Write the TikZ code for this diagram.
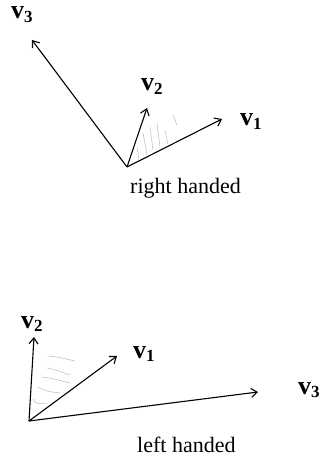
\documentclass[tikz,border=0pt]{standalone}
\usepackage{fontspec}
\setmainfont{Liberation Serif}
\usepackage{tikz}
\usetikzlibrary{arrows.meta,calc,positioning}

\newcommand{\vlab}[1]{{\fontsize{26}{26}\selectfont\textbf{v}}\raisebox{-3.5pt}{\fontsize{17}{17}\selectfont\textbf{#1}}}

\tikzset{
  vec/.style={-{Straight Barb[length=6pt,width=9pt]}, line width=1.1pt},
  hatch/.style={gray!55, line width=0.5pt},
  lab/.style={anchor=base west, inner sep=0pt},
  caption/.style={anchor=base west, inner sep=0pt, font=\fontsize{22}{22}\selectfont}
}

\begin{document}
\begin{tikzpicture}[x=1pt, y=-1pt]
  \useasboundingbox (0,0) rectangle (334,457);
  % right handed frame
  \coordinate (O1) at (127,167);
  \coordinate (A1) at (222,119);
  \coordinate (B1) at (147,108);
  \coordinate (C1) at (32,40);
  \draw[hatch] (139,160) -- (137,147);
  \draw[hatch] (147,155) -- (143,133);
  \draw[hatch] (153,150) -- (150,127);
  \draw[hatch] (160,147) -- (157,123);
  \draw[hatch] (168,144) -- (165,130);
  \draw[hatch] (177,125) -- (173,115);
  \draw[vec] (O1) -- (A1);
  \draw[vec] (O1) -- (B1);
  \draw[vec] (O1) -- (C1);
  \node[lab] (a1) at (240,126) {\vlab{1}};
  \node[lab] (b1) at (141,91) {\vlab{2}};
  \node[lab] (c1) at (11,19) {\vlab{3}};
  \node[caption] (rh) at (130,193) {right handed};
  % left handed frame
  \coordinate (O2) at (29,421);
  \coordinate (A2) at (117,356);
  \coordinate (B2) at (34,337);
  \coordinate (C2) at (258,392);
  \draw[hatch] (48,356) .. controls (58,357) .. (75,361);
  \draw[hatch] (47,368) .. controls (56,370) .. (70,375);
  \draw[hatch] (42,377) .. controls (50,378) .. (70,383);
  \draw[hatch] (38,387) .. controls (45,391) .. (60,393);
  \draw[hatch] (33,399) .. controls (36,404) .. (47,403);
  \draw[vec] (O2) -- (A2);
  \draw[vec] (O2) -- (B2);
  \draw[vec] (O2) -- (C2);
  \node[lab] (a2) at (133,358) {\vlab{1}};
  \node[lab] (b2) at (21,328) {\vlab{2}};
  \node[lab] (c2) at (298,394) {\vlab{3}};
  \node[caption] (lh) at (137,452) {left handed};
\end{tikzpicture}
\end{document}
